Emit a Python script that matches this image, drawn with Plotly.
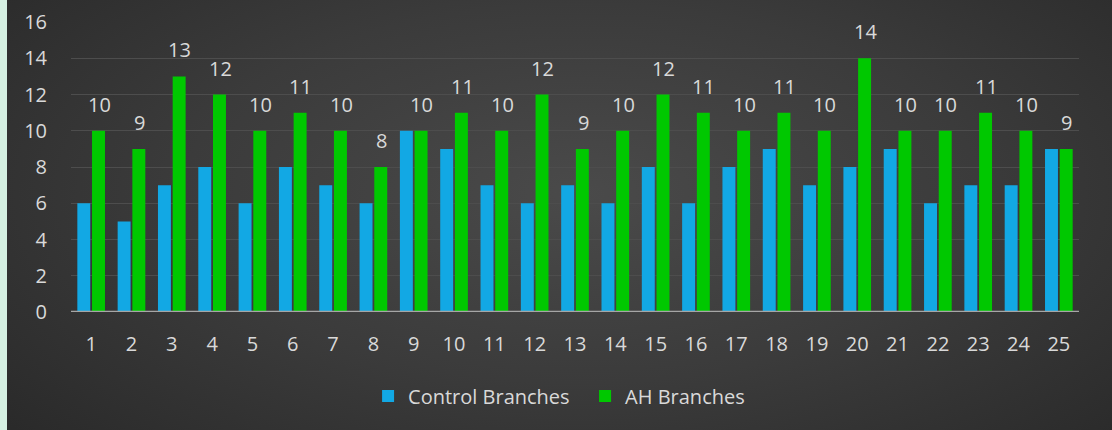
import plotly.graph_objects as go
import urllib.parse

categories = [str(i) for i in range(1, 26)]
control = [6, 5, 7, 8, 6, 8, 7, 6, 10, 9, 7, 6, 7, 6, 8, 6, 8, 9, 7, 8, 9, 6, 7, 7, 9]
ah = [10, 9, 13, 12, 10, 11, 10, 8, 10, 11, 10, 12, 9, 10, 12, 11, 10, 11, 10, 14, 10, 10, 11, 10, 9]
y_ticks = [0, 2, 4, 6, 8, 10, 12, 14, 16]

W, H = 1112, 430
ML, MR, MT, MB = 71, 33, 22, 118
PW, PH = W - ML - MR, H - MT - MB
FONT = "'Open Sans', sans-serif"
TXT = "#d9d9d9"
FS = 20

svg = (
    "<svg xmlns='http://www.w3.org/2000/svg' width='1105' height='430' preserveAspectRatio='none'>"
    "<defs><radialGradient id='g' cx='0.52' cy='0.55' r='0.72' gradientUnits='objectBoundingBox'>"
    "<stop offset='0' stop-color='#4a4a4a'/><stop offset='0.5' stop-color='#3b3b3b'/>"
    "<stop offset='1' stop-color='#282828'/></radialGradient></defs>"
    "<rect width='1105' height='430' fill='url(#g)'/></svg>"
)
src = "data:image/svg+xml;charset=utf-8," + urllib.parse.quote(svg)

fig = go.Figure()
fig.add_trace(go.Bar(x=categories, y=control, name="Control Branches",
                     marker=dict(color="#12a8e4", line=dict(width=0))))
fig.add_trace(go.Bar(x=categories, y=ah, name="AH Branches",
                     marker=dict(color="#00c800", line=dict(width=0))))

for i, v in enumerate(ah):
    fig.add_annotation(x=i, y=v, text=str(v), showarrow=False, xshift=8,
                       yanchor="bottom", yshift=11,
                       font=dict(family=FONT, size=FS, color=TXT))

x0 = (7 - ML) / PW
x1 = (W - ML) / PW
y1 = (H - MT) / PH
y0 = -MB / PH
fig.add_layout_image(source=src, xref="paper", yref="paper", x=x0, y=y1,
                     sizex=x1 - x0, sizey=y1 - y0, xanchor="left", yanchor="top",
                     sizing="stretch", layer="below")

fig.update_layout(
    width=W, height=H,
    margin=dict(l=ML, r=MR, t=MT, b=MB, autoexpand=False),
    paper_bgcolor="#d5f0e2",
    plot_bgcolor="rgba(0,0,0,0)",
    barmode="group", bargap=0.27, bargroupgap=0.12,
    font=dict(family=FONT, size=FS, color=TXT),
    showlegend=True,
    legend=dict(orientation="h", x=0.51, xanchor="center", y=-0.29, yanchor="middle",
                font=dict(family=FONT, size=FS, color=TXT), bgcolor="rgba(0,0,0,0)",
                traceorder="normal", entrywidth=172, entrywidthmode="pixels"),
    xaxis=dict(type="category", showgrid=False, showline=False, ticks="",
               tickfont=dict(family=FONT, size=FS, color=TXT), zeroline=False,
               automargin=False, ticklabelstandoff=18),
    yaxis=dict(range=[0, 16], tickvals=y_ticks, showgrid=True, gridcolor="#4d4d4d",
               gridwidth=1, zeroline=False, showline=False, ticks="",
               tickfont=dict(family=FONT, size=FS, color=TXT), ticklabelstandoff=23,
               automargin=False),
)
fig.add_shape(type="line", xref="paper", yref="y", x0=0, x1=1, y0=0, y1=0,
              line=dict(color="#a6a6a6", width=2.5), layer="above")

fig.write_html("out.html", config={"displayModeBar": False},
               post_script="document.body.style.margin='0';document.body.style.padding='0';")
